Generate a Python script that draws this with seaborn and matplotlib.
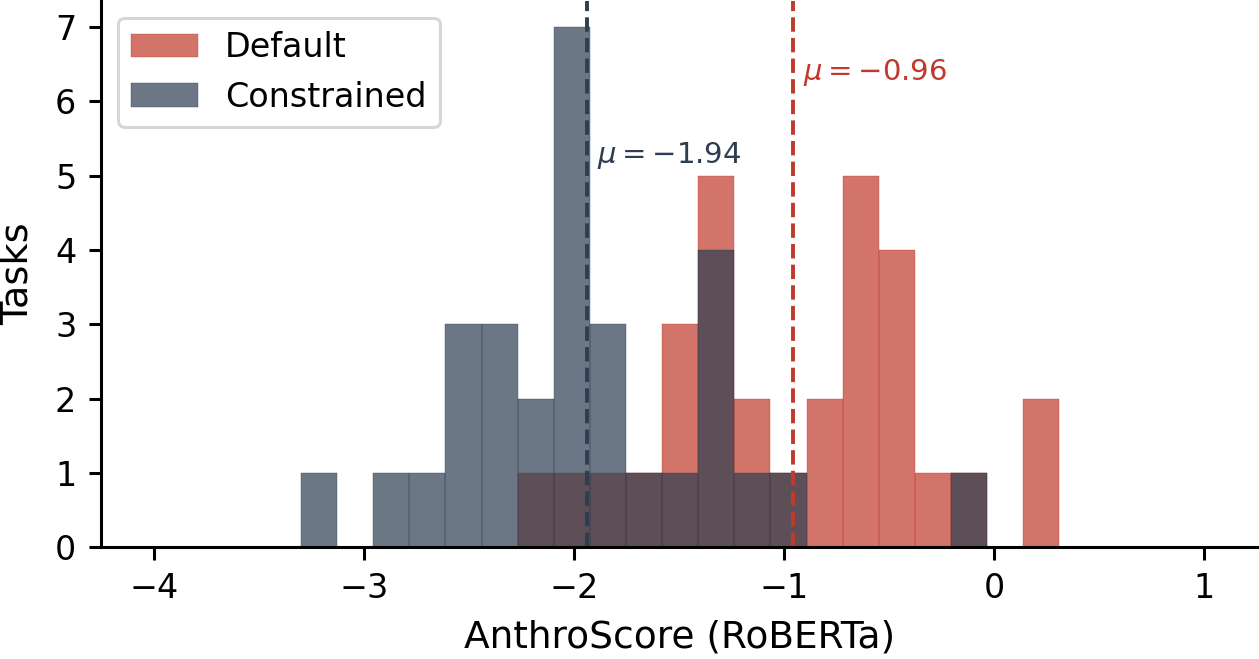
import numpy as np
import pandas as pd
import seaborn as sns
import matplotlib.pyplot as plt

# bin layout of the histogram (21 equal bins over the score range)
score_min, score_max = -3.30, 0.31
n_bins = 21

# tasks per bin
default_counts = [0, 0, 0, 0, 0, 0, 1, 1, 1, 1, 3, 5, 2, 1, 2, 5, 4, 1, 1, 0, 2]
constrained_counts = [1, 0, 1, 1, 3, 3, 2, 7, 3, 1, 1, 4, 1, 1, 0, 0, 0, 0, 1, 0, 0]

mean_default = -0.96
mean_constrained = -1.94

x_ticks = [-4, -3, -2, -1, 0, 1]
y_ticks = [0, 1, 2, 3, 4, 5, 6, 7]

red = '#c0392b'
navy = '#2c3e50'

edges = np.linspace(score_min, score_max, n_bins + 1)
centers = (edges[:-1] + edges[1:]) / 2

df = pd.DataFrame({
    'score': np.concatenate([centers, centers]),
    'tasks': default_counts + constrained_counts,
    'group': ['Default'] * n_bins + ['Constrained'] * n_bins,
})

fig, ax = plt.subplots(figsize=(12.59, 6.59), dpi=100)
fig.subplots_adjust(left=0.0805, right=0.9983, top=0.9985, bottom=0.1695)

# Default first, Constrained drawn on top
for name, color in [('Default', red), ('Constrained', navy)]:
    sns.histplot(data=df[df['group'] == name], x='score', weights='tasks',
                 bins=n_bins, binrange=(score_min, score_max),
                 color=color, alpha=0.7, edgecolor=color,
                 linewidth=0.25, label=name, ax=ax)

# mean lines + labels
ax.axvline(mean_constrained, color=navy, linestyle='--', linewidth=2.8)
ax.axvline(mean_default, color=red, linestyle='--', linewidth=2.8)
ax.text(mean_constrained + 0.05, 5.17, f'$\\mu = {mean_constrained:.2f}$',
        color=navy, fontsize=21, va='baseline', ha='left')
ax.text(mean_default + 0.05, 6.29, f'$\\mu = {mean_default:.2f}$',
        color=red, fontsize=21, va='baseline', ha='left')

ax.set_xlim(-4.25, 1.25)
ax.set_ylim(0, 7.35)
ax.set_xticks(x_ticks)
ax.set_yticks(y_ticks)
ax.tick_params(labelsize=24, length=9, width=2.2, pad=9)

ax.set_xlabel('AnthroScore (RoBERTa)', fontsize=27, labelpad=10)
ax.set_ylabel('Tasks', fontsize=27.5, labelpad=14)

for s in ['left', 'bottom']:
    ax.spines[s].set_linewidth(2.2)
sns.despine(ax=ax)

leg = ax.legend(loc='upper left', fontsize=24, handlelength=2.0,
                borderaxespad=0.5)
leg.get_frame().set_linewidth(2.2)

plt.savefig('out.png', dpi=100)
